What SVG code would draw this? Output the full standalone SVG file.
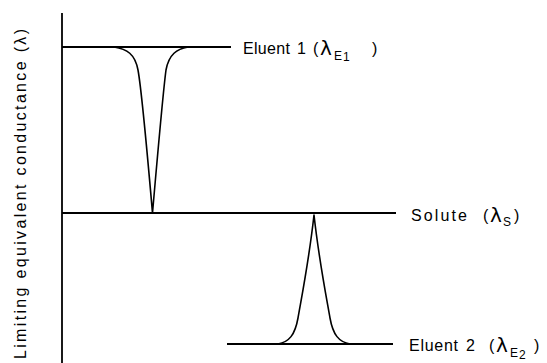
<svg xmlns="http://www.w3.org/2000/svg" width="547" height="363" viewBox="0 0 547 363">
<style>
.ln{stroke:#000;stroke-width:1.8;fill:none}
.cv{stroke:#000;stroke-width:1.6;fill:none;stroke-linejoin:round}
text{font-family:"Liberation Sans",Arial,sans-serif;fill:#000}
.lb{font-size:16px}
.lam{font-size:20px;font-family:"DejaVu Sans","Liberation Sans",sans-serif;font-weight:normal}
.sub{font-size:12px}
</style>
<rect width="547" height="363" fill="#fff"/>
<g id="axis">
<line class="ln" x1="62" y1="13" x2="62" y2="363"/>
<text class="lb" transform="translate(26,359) rotate(-90)" textLength="330" lengthAdjust="spacing">Limiting equivalent conductance (λ)</text>
</g>
<g id="connectors">
<line class="ln" x1="62" y1="47" x2="231" y2="47"/>
<line class="ln" x1="62" y1="213" x2="396" y2="213"/>
<line class="ln" x1="227" y1="344" x2="393" y2="344"/>
<path class="cv" d="M114,47 C127,49 135,54 138,70 C142,92 147,150 152.5,213 C158,150 163,92 166,70 C169,54 177,49 188,47"/>
<path class="cv" d="M278,344 C289,342 295,335 298,318 C302,295 309,260 314,215 C319,260 326,295 330,318 C333,335 339,342 350,344"/>
</g>
<g id="eluent1">
<text class="lb" x="243" y="54" textLength="47" lengthAdjust="spacing">Eluent</text>
<text class="lb" x="297" y="54">1</text>
<text class="lb" x="313" y="54">(</text>
<text class="lam" x="320" y="55">λ</text>
<text class="sub" x="334" y="60">E</text>
<text class="sub" x="343" y="61">1</text>
<text class="lb" x="372" y="54">)</text>
</g>
<g id="solute">
<text class="lb" x="411" y="221" textLength="56" lengthAdjust="spacing">Solute</text>
<text class="lb" x="483" y="221">(</text>
<text class="lam" x="490" y="222">λ</text>
<text class="sub" x="503" y="226">S</text>
<text class="lb" x="514" y="221">)</text>
</g>
<g id="eluent2">
<text class="lb" x="409" y="351" textLength="49" lengthAdjust="spacing">Eluent</text>
<text class="lb" x="466" y="351">2</text>
<text class="lb" x="489" y="351">(</text>
<text class="lam" x="496" y="352">λ</text>
<text class="sub" x="510" y="357">E</text>
<text class="sub" x="519" y="359">2</text>
<text class="lb" x="534" y="351">)</text>
</g>
</svg>
